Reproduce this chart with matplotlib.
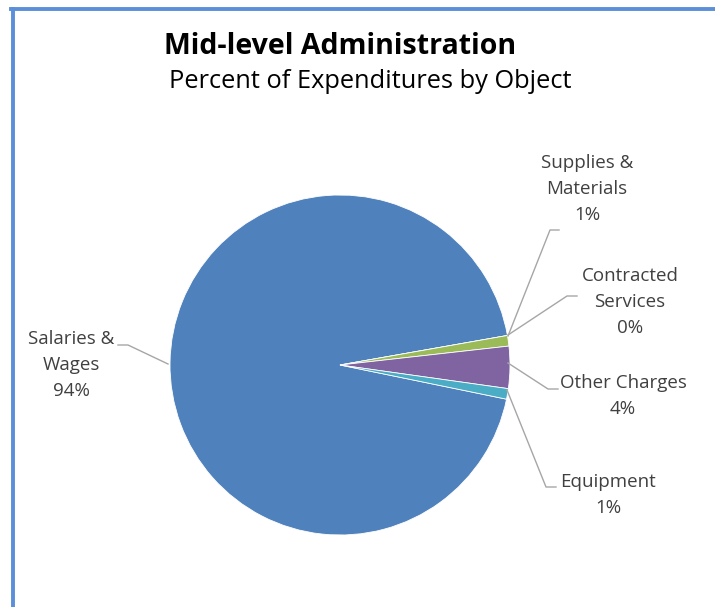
import numpy as np
import matplotlib
matplotlib.use("Agg")
import matplotlib.pyplot as plt
from matplotlib.lines import Line2D

categories = ["Salaries &\nWages", "Contracted\nServices", "Supplies &\nMaterials",
              "Other Charges", "Equipment"]
percents = [94, 0, 1, 4, 1]
colors = ["#4F81BD", "#C0504D", "#9BBB59", "#8064A2", "#4BACC6"]

W, H = 715, 607
CX, CY, R = 340, 365, 170

plt.rcParams['font.family'] = ['Open Sans', 'DejaVu Sans']

fig = plt.figure(figsize=(W / 100, H / 100), dpi=100)
fig.patch.set_facecolor('white')

def px(x, y):
    # pixel position -> pie data coords
    return (x - CX) / R, (CY - y) / R

ax = fig.add_axes([(CX - R) / W, (H - CY - R) / H, 2 * R / W, 2 * R / H])
wedges, _ = ax.pie(percents, colors=colors, startangle=-11.6, counterclock=False,
                   radius=1, wedgeprops=dict(edgecolor='white', linewidth=0.6))
ax.set_xlim(-1, 1)
ax.set_ylim(-1, 1)
ax.set_aspect('equal')
ax.axis('off')

# label text centre, elbow point and line end (pixels), per category
label_pos = [(71, 365), (630, 302), (587, 189), (623, 396), (608, 495)]
elbows = [(128, 345), (567, 296), (550, 230), (548, 389), (546, 487)]
ends = [(118, 345), (577, 296), (559, 230), (558, 389), (556, 487)]
anchors_px = [(168, 364), (508, 335), (508, 336), (508, 363), (507, 390)]

for i, (name, val) in enumerate(zip(categories, percents)):
    ax0, ay0 = px(*anchors_px[i])
    ex, ey = px(*elbows[i])
    fx, fy = px(*ends[i])
    ax.add_line(Line2D([ax0, ex, fx], [ay0, ey, fy], color='#a6a6a6',
                       linewidth=1.0, clip_on=False))
    tx, ty = px(*label_pos[i])
    ax.text(tx, ty, f"{name}\n{val:.0f}%", ha='center', va='center',
            fontsize=13.5, color='#404040', linespacing=1.55, clip_on=False)

fig.text(340 / W, 1 - 46 / H, "Mid-level Administration", ha='center', va='center',
         fontsize=20.5, fontweight='bold', color='black')
fig.text(370 / W, 1 - 82 / H, "Percent of Expenditures by Object", ha='center',
         va='center', fontsize=18.3, color='black')

# chart area border (left and top edges)
fig.add_artist(Line2D([12.5 / W, 12.5 / W], [0, 1 - 8.5 / H], color='#5B8FD9',
                      linewidth=2.8, transform=fig.transFigure))
fig.add_artist(Line2D([11 / W, 1], [1 - 8.5 / H, 1 - 8.5 / H], color='#5B8FD9',
                      linewidth=2.8, transform=fig.transFigure))

fig.savefig("out.png", dpi=100, facecolor='white')
